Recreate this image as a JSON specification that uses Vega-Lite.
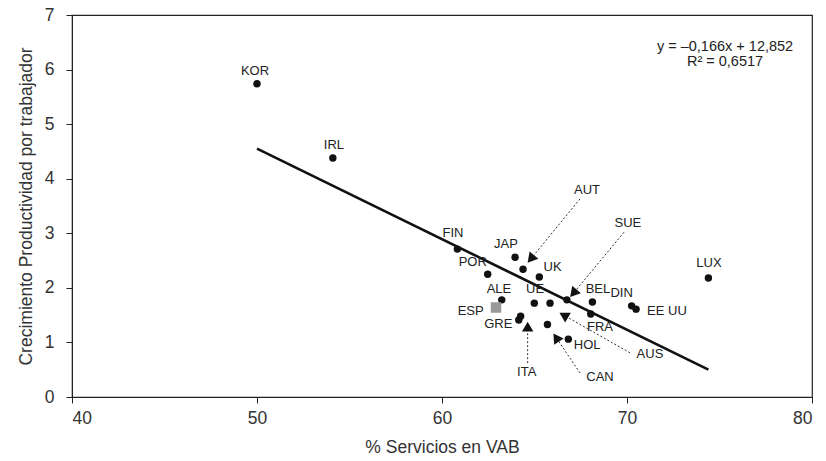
{
  "$schema": "https://vega.github.io/schema/vega-lite/v6.json",
  "autosize": "none",
  "width": 740,
  "height": 382,
  "padding": {"left": 72, "top": 15, "right": 14, "bottom": 64},
  "background": "white",
  "config": {
    "font": "Liberation Sans",
    "view": {"stroke": "#222", "strokeWidth": 1.2},
    "axis": {
      "grid": false,
      "domainColor": "#222",
      "tickColor": "#222",
      "labelColor": "#333",
      "titleColor": "#333",
      "labelFont": "Liberation Sans",
      "titleFont": "Liberation Sans",
      "labelFontSize": 17.5,
      "titleFontSize": 17.5,
      "titleFontWeight": "normal",
      "tickSize": 6
    }
  },
  "datasets": {
    "countries": [
      {"pais": "KOR", "x": 50.0, "y": 5.74, "lx": 49.89, "ly": 5.97, "tipo": "otro"},
      {"pais": "IRL", "x": 54.1, "y": 4.38, "lx": 54.16, "ly": 4.62, "tipo": "otro"},
      {"pais": "FIN", "x": 60.83, "y": 2.71, "lx": 60.59, "ly": 3.0, "tipo": "otro"},
      {"pais": "JAP", "x": 63.95, "y": 2.56, "lx": 63.46, "ly": 2.8, "tipo": "otro"},
      {"pais": "AUT", "x": 64.38, "y": 2.34, "lx": 67.84, "ly": 3.79, "tipo": "otro"},
      {"pais": "UK", "x": 65.26, "y": 2.2, "lx": 65.98, "ly": 2.38, "tipo": "otro"},
      {"pais": "POR", "x": 62.47, "y": 2.25, "lx": 61.66, "ly": 2.47, "tipo": "otro"},
      {"pais": "ALE", "x": 63.23, "y": 1.78, "lx": 63.08, "ly": 1.97, "tipo": "otro"},
      {"pais": "ESP", "x": 62.92, "y": 1.64, "lx": 61.55, "ly": 1.58, "tipo": "esp"},
      {"pais": "UE", "x": 64.99, "y": 1.72, "lx": 65.03, "ly": 1.98, "tipo": "otro"},
      {"pais": "AUS", "x": 65.84, "y": 1.72, "lx": 71.24, "ly": 0.79, "tipo": "otro"},
      {"pais": "SUE", "x": 66.75, "y": 1.78, "lx": 70.05, "ly": 3.19, "tipo": "otro"},
      {"pais": "BEL", "x": 68.13, "y": 1.74, "lx": 68.43, "ly": 1.98, "tipo": "otro"},
      {"pais": "DIN", "x": 70.25, "y": 1.67, "lx": 69.71, "ly": 1.91, "tipo": "otro"},
      {"pais": "EE UU", "x": 70.49, "y": 1.61, "lx": 72.16, "ly": 1.58, "tipo": "otro"},
      {"pais": "GRE", "x": 64.25, "y": 1.48, "lx": 63.04, "ly": 1.33, "tipo": "otro"},
      {"pais": "ITA", "x": 64.15, "y": 1.41, "lx": 64.58, "ly": 0.46, "tipo": "otro"},
      {"pais": "FRA", "x": 68.04, "y": 1.52, "lx": 68.54, "ly": 1.28, "tipo": "otro"},
      {"pais": "CAN", "x": 65.7, "y": 1.33, "lx": 68.54, "ly": 0.36, "tipo": "otro"},
      {"pais": "HOL", "x": 66.83, "y": 1.06, "lx": 67.85, "ly": 0.95, "tipo": "otro"},
      {"pais": "LUX", "x": 74.4, "y": 2.18, "lx": 74.43, "ly": 2.46, "tipo": "otro"}
    ],
    "arrows": [
      {"pais": "AUT", "x1": 67.46, "y1": 3.63, "x2": 64.8, "y2": 2.53, "dir": 220},
      {"pais": "SUE", "x1": 69.84, "y1": 3.02, "x2": 67.1, "y2": 1.9, "dir": 221},
      {"pais": "AUS", "x1": 70.16, "y1": 0.81, "x2": 66.58, "y2": 1.5, "dir": 300},
      {"pais": "ITA", "x1": 64.63, "y1": 0.62, "x2": 64.63, "y2": 1.29, "dir": 0},
      {"pais": "CAN", "x1": 67.46, "y1": 0.44, "x2": 66.17, "y2": 1.09, "dir": 326}
    ],
    "fit": [
      {"x": 50.0, "y": 4.552},
      {"x": 74.4, "y": 0.502}
    ],
    "eq": [
      {"x": 75.3, "y": 6.41}
    ]
  },
  "layer": [
    {
      "data": {"name": "fit"},
      "mark": {"type": "line", "color": "#111", "strokeWidth": 2.6},
      "encoding": {
        "x": {"field": "x", "type": "quantitative", "scale": {"domain": [40, 80], "nice": false, "zero": false},
              "axis": {"values": [40, 50, 60, 70, 80], "title": "% Servicios en VAB", "titlePadding": 12, "labelPadding": 6}},
        "y": {"field": "y", "type": "quantitative", "scale": {"domain": [0, 7], "nice": false},
              "axis": {"values": [0, 1, 2, 3, 4, 5, 6, 7], "format": "d", "title": "Crecimiento Productividad por trabajador", "titlePadding": 9, "labelPadding": 12}}
      }
    },
    {
      "data": {"name": "arrows"},
      "mark": {"type": "rule", "color": "#333", "strokeWidth": 1, "strokeDash": [2, 2]},
      "encoding": {
        "x": {"field": "x1", "type": "quantitative"},
        "y": {"field": "y1", "type": "quantitative"},
        "x2": {"field": "x2"},
        "y2": {"field": "y2"}
      }
    },
    {
      "data": {"name": "countries"},
      "transform": [{"filter": "datum.tipo === 'otro'"}],
      "mark": {"type": "point", "shape": "circle", "filled": true, "color": "#111", "size": 55, "opacity": 1},
      "encoding": {
        "x": {"field": "x", "type": "quantitative"},
        "y": {"field": "y", "type": "quantitative"}
      }
    },
    {
      "data": {"name": "arrows"},
      "mark": {"type": "point", "shape": "triangle-up", "filled": true, "color": "#111", "size": 130, "opacity": 1},
      "encoding": {
        "x": {"field": "x2", "type": "quantitative"},
        "y": {"field": "y2", "type": "quantitative"},
        "angle": {"field": "dir", "type": "quantitative", "scale": null}
      }
    },
    {
      "data": {"name": "countries"},
      "transform": [{"filter": "datum.tipo === 'esp'"}],
      "mark": {"type": "point", "shape": "square", "filled": true, "color": "#999", "size": 110, "opacity": 1},
      "encoding": {
        "x": {"field": "x", "type": "quantitative"},
        "y": {"field": "y", "type": "quantitative"}
      }
    },
    {
      "data": {"name": "countries"},
      "mark": {"type": "text", "font": "Liberation Sans", "fontSize": 13, "color": "#222", "align": "center", "baseline": "middle"},
      "encoding": {
        "x": {"field": "lx", "type": "quantitative"},
        "y": {"field": "ly", "type": "quantitative"},
        "text": {"field": "pais"}
      }
    },
    {
      "data": {"name": "eq"},
      "mark": {"type": "text", "font": "Liberation Sans", "fontSize": 14.5, "color": "#222", "align": "center", "baseline": "middle", "lineHeight": 14.5},
      "encoding": {
        "x": {"field": "x", "type": "quantitative"},
        "y": {"field": "y", "type": "quantitative"},
        "text": {"value": ["y = –0,166x + 12,852", "R² = 0,6517"]}
      }
    }
  ]
}
